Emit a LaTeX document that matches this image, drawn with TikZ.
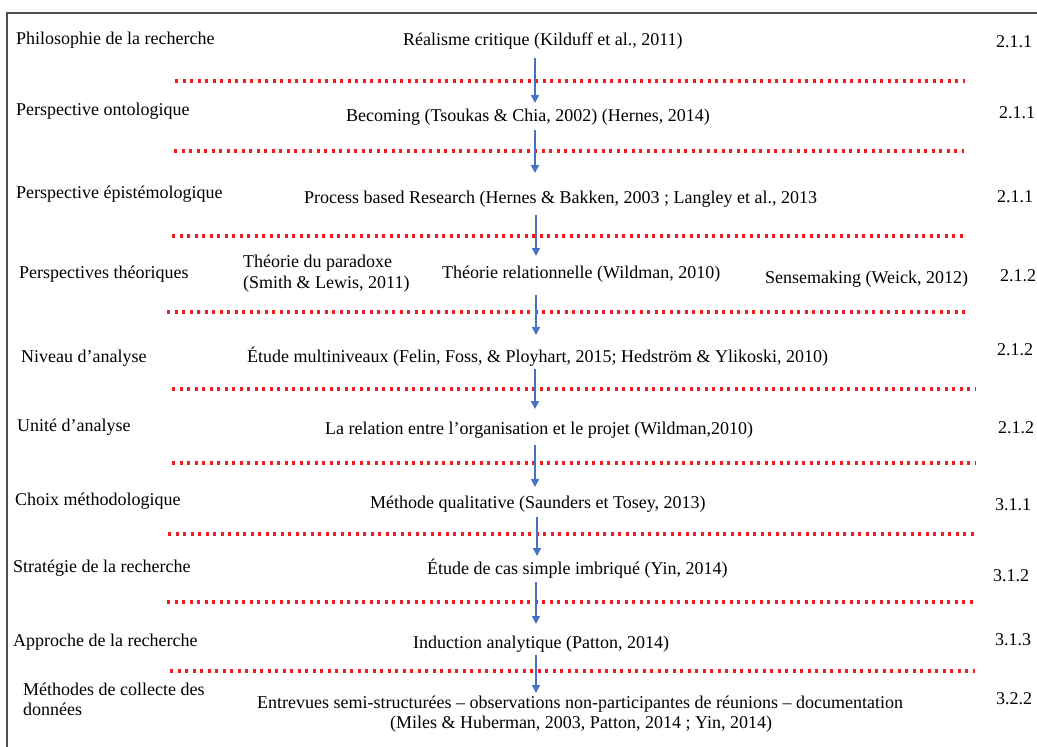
\documentclass[tikz,border=0pt]{standalone}
\usepackage{fontspec}
\setmainfont{Liberation Serif}
\usetikzlibrary{arrows.meta}
\definecolor{frameline}{RGB}{80,80,80}
\definecolor{sepred}{RGB}{240,28,34}
\definecolor{flowblue}{RGB}{68,114,196}
\tikzset{
  txt/.style={anchor=base west, inner sep=0pt, font=\fontsize{18}{20.5}\selectfont},
  ctxt/.style={anchor=base, inner sep=0pt, font=\fontsize{18}{20.5}\selectfont},
  sep/.style={sepred, line width=3.3pt, dash pattern=on 3.3pt off 4.2pt},
  flow/.style={flowblue, line width=1.6pt, -{Triangle[width=8pt,length=8pt]}},
}
\begin{document}
\begin{tikzpicture}[x=1pt,y=-1pt]
\useasboundingbox (0,0) rectangle (1037,747);

% outer frame (top and left edges)
\draw[frameline, line width=2pt] (1040,13) -- (7,13) -- (7,750);

% left column: levels of the research design
\node[txt] (l1)  at (16,44)  {Philosophie de la recherche};
\node[txt] (l2)  at (16,115) {Perspective ontologique};
\node[txt] (l3)  at (16,198) {Perspective épistémologique};
\node[txt] (l4)  at (19,278) {Perspectives théoriques};
\node[txt] (l5)  at (21,362) {Niveau d’analyse};
\node[txt] (l6)  at (17,431) {Unité d’analyse};
\node[txt] (l7)  at (15,505) {Choix méthodologique};
\node[txt] (l8)  at (13,572) {Stratégie de la recherche};
\node[txt] (l9)  at (13,646) {Approche de la recherche};
\node[txt] (l10a) at (23,695) {Méthodes de collecte des};
\node[txt] (l10b) at (23,715) {données};

% middle column: choices made at each level
\node[txt] (m1)  at (403,45)  {Réalisme critique (Kilduff et al., 2011)};
\node[txt] (m2)  at (346,121) {Becoming (Tsoukas \& Chia, 2002) (Hernes, 2014)};
\node[txt] (m3)  at (304,203) {Process based Research (Hernes \& Bakken, 2003 ; Langley et al., 2013};
\node[txt] (m4a) at (243,267) {Théorie du paradoxe};
\node[txt] (m4b) at (243,288) {(Smith \& Lewis, 2011)};
\node[txt] (m4c) at (442,278) {Théorie relationnelle (Wildman, 2010)};
\node[txt] (m4d) at (765,283) {Sensemaking (Weick, 2012)};
\node[txt] (m5)  at (247,362) {Étude multiniveaux (Felin, Foss, \& Ployhart, 2015; Hedström \& Ylikoski, 2010)};
\node[txt] (m6)  at (325,434) {La relation entre l’organisation et le projet (Wildman,2010)};
\node[txt] (m7)  at (370,508) {Méthode qualitative (Saunders et Tosey, 2013)};
\node[txt] (m8)  at (427,574) {Étude de cas simple imbriqué (Yin, 2014)};
\node[txt] (m9)  at (413,648) {Induction analytique (Patton, 2014)};
\node[txt] (m10a) at (257,708) {Entrevues semi-structurées – observations non-participantes de réunions – documentation};
\node[ctxt] (m10b) at (581,728) {(Miles \& Huberman, 2003, Patton, 2014 ; Yin, 2014)};

% right column: section numbers
\node[txt] (r1)  at (996,47)  {2.1.1};
\node[txt] (r2)  at (999,118) {2.1.1};
\node[txt] (r3)  at (997,202) {2.1.1};
\node[txt] (r4)  at (1000,281) {2.1.2};
\node[txt] (r5)  at (997,355) {2.1.2};
\node[txt] (r6)  at (998,433) {2.1.2};
\node[txt] (r7)  at (995,510) {3.1.1};
\node[txt] (r8)  at (993,581) {3.1.2};
\node[txt] (r9)  at (995,645) {3.1.3};
\node[txt] (r10) at (996,704) {3.2.2};

% red dotted separators between levels
\draw[sep] (175,81)  -- (965,81);
\draw[sep] (174,151) -- (964,151);
\draw[sep] (172,236) -- (965,236);
\draw[sep] (167,312) -- (966,312);
\draw[sep] (172,389) -- (975,389);
\draw[sep] (172,463) -- (975,463);
\draw[sep] (168,534) -- (975,534);
\draw[sep] (167,602) -- (973,602);
\draw[sep] (170,671) -- (975,671);

% arrow end points
\coordinate (a1s) at (535,58);  \coordinate (a1e) at (535,103);
\coordinate (a2s) at (535,130); \coordinate (a2e) at (535,173);
\coordinate (a3s) at (536,215); \coordinate (a3e) at (536,256);
\coordinate (a4s) at (536,295); \coordinate (a4e) at (536,335);
\coordinate (a5s) at (535,369); \coordinate (a5e) at (535,409);
\coordinate (a6s) at (535,445); \coordinate (a6e) at (535,487);
\coordinate (a7s) at (537,517); \coordinate (a7e) at (537,556);
\coordinate (a8s) at (536,582); \coordinate (a8e) at (536,624);
\coordinate (a9s) at (536,655); \coordinate (a9e) at (536,693);

% downward flow arrows
\foreach \i in {1,...,9} {
  \draw[flow] (a\i s) -- (a\i e);
}
\end{tikzpicture}
\end{document}
